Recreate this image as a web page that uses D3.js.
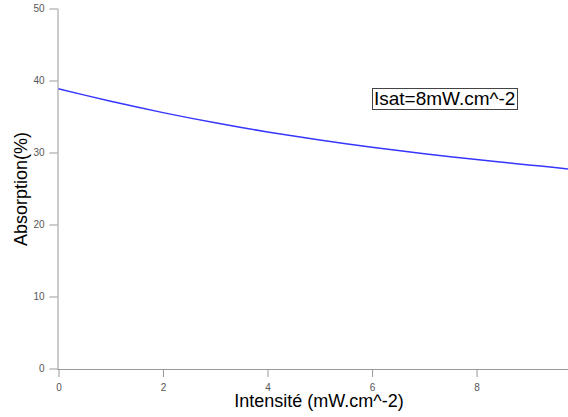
<!DOCTYPE html>
<html>
<head>
<meta charset="utf-8">
<script src="https://cdn.jsdelivr.net/npm/d3@7"></script>
<style>
  html, body { margin: 0; padding: 0; background: #fff; }
  svg { display: block; font-family: "Liberation Sans", Arial, sans-serif; }
</style>
</head>
<body>
<svg id="chart" width="568" height="417"></svg>
<script>
// Absorption curve sampled along the intensity axis
const intensity = [0, 0.5, 1, 1.5, 2, 2.5, 3, 3.5, 4, 4.5, 5, 5.5, 6, 6.5, 7, 7.5, 8, 8.5, 9, 9.5, 9.75];
const absorption = [38.85, 37.97, 37.12, 36.31, 35.54, 34.81, 34.12, 33.47, 32.86, 32.29, 31.75, 31.23, 30.74, 30.28, 29.84, 29.42, 29.03, 28.66, 28.27, 27.92, 27.72];
const xTicks = [0, 2, 4, 6, 8];
const yTicks = [0, 10, 20, 30, 40, 50];
const annotation = "Isat=8mW.cm^-2";

const svg = d3.select("#chart");
const axisColor = "#999";
const labelColor = "#555";

const x = d3.scaleLinear().domain([0, 9.75]).range([58.5, 568]);
const y = d3.scaleLinear().domain([0, 50]).range([368.5, 8.5]);

// Y axis
const gy = svg.append("g").attr("transform", "translate(57.5,0)")
  .call(d3.axisLeft(y).tickValues(yTicks).tickSize(8).tickPadding(5).tickSizeOuter(0));
gy.select(".domain").attr("stroke", axisColor).attr("d", `M0.5,${y(50)}V369.5`);
gy.selectAll(".tick line").attr("stroke", axisColor);
gy.selectAll(".tick text").attr("fill", labelColor).style("font-size", "10px")
  .style("font-family", "Liberation Sans, Arial, sans-serif");

// X axis
const gx = svg.append("g").attr("transform", "translate(0,369)")
  .call(d3.axisBottom(x).tickValues(xTicks).tickSize(8).tickPadding(7).tickSizeOuter(0));
gx.select(".domain").attr("stroke", axisColor).attr("d", `M57.5,0.5H568`);
gx.selectAll(".tick line").attr("stroke", axisColor);
gx.selectAll(".tick text").attr("fill", labelColor).style("font-size", "10px")
  .style("font-family", "Liberation Sans, Arial, sans-serif");

// Curve
const line = d3.line()
  .x((d, i) => x(intensity[i]))
  .y(d => y(d))
  .curve(d3.curveMonotoneX);
svg.append("path")
  .datum(absorption)
  .attr("fill", "none")
  .attr("stroke", "#3636ff")
  .attr("stroke-width", 1.5)
  .attr("d", line);

// Axis titles
svg.append("text")
  .attr("x", 319).attr("y", 407)
  .attr("text-anchor", "middle")
  .style("font-size", "18px")
  .attr("fill", "#000")
  .text("Intensité (mW.cm^-2)");

svg.append("text")
  .attr("transform", "translate(27,189) rotate(-90)")
  .attr("text-anchor", "middle")
  .style("font-size", "18px")
  .attr("fill", "#000")
  .text("Absorption(%)");

// Annotation box
const ann = svg.append("g");
const annText = ann.append("text")
  .attr("x", 374).attr("y", 105)
  .style("font-size", "19px")
  .attr("fill", "#000")
  .text(annotation);
const bb = annText.node().getBBox();
ann.insert("rect", "text")
  .attr("x", 372.5).attr("y", 88.5)
  .attr("width", Math.round(bb.width) + 4).attr("height", 21)
  .attr("fill", "#fff")
  .attr("stroke", "#444")
  .attr("stroke-width", 1);
</script>
</body>
</html>
